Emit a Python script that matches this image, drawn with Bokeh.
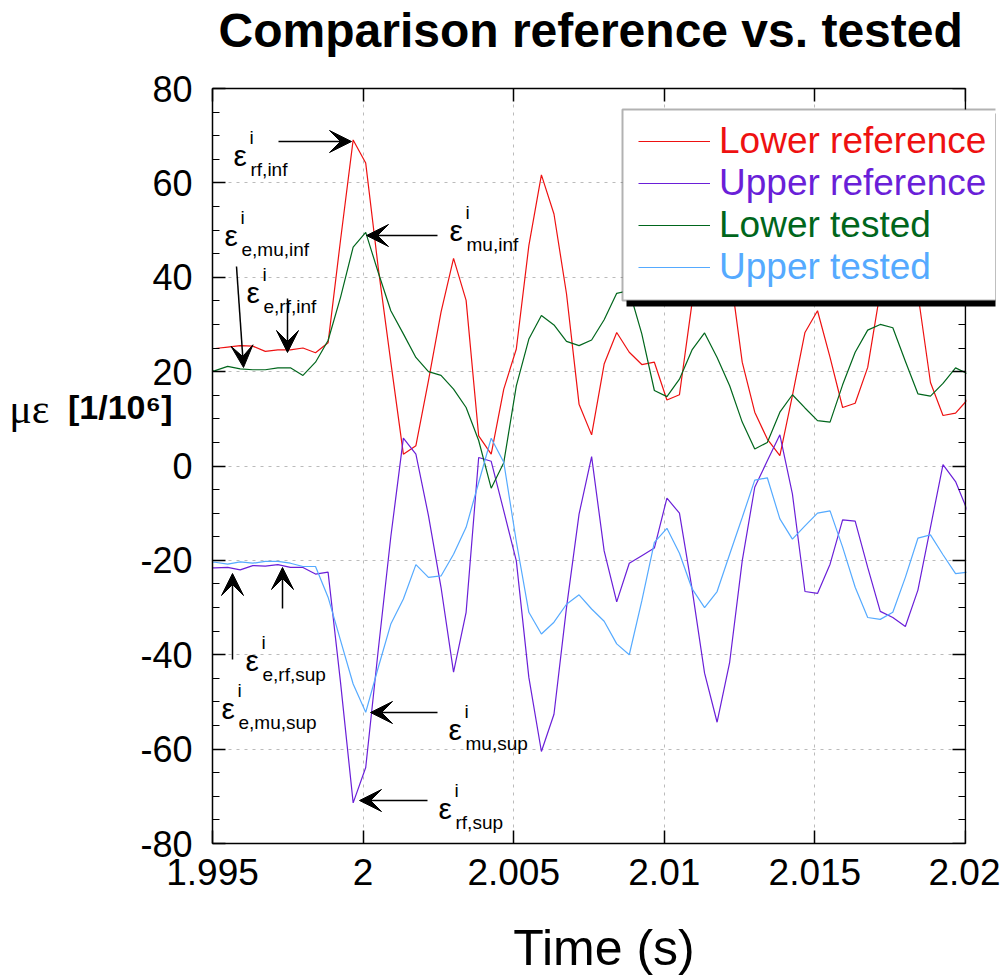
from bokeh.plotting import figure
from bokeh.models import (Range1d, FixedTicker, SingleIntervalTicker, NumeralTickFormatter,
                          LinearAxis, Label, Arrow, VeeHead, BoxAnnotation, Legend, LegendItem)
from bokeh.embed import file_html
from bokeh.resources import INLINE

# ---------------- data ----------------
time_s = [1.994670, 1.995087, 1.995503, 1.995920, 1.996337, 1.996753, 1.997170, 1.997587,
          1.998003, 1.998420, 1.998837, 1.999253, 1.999670, 2.000087, 2.000503, 2.000920,
          2.001337, 2.001753, 2.002170, 2.002587, 2.003003, 2.003420, 2.003837, 2.004253,
          2.004670, 2.005087, 2.005503, 2.005920, 2.006337, 2.006753, 2.007170, 2.007587,
          2.008003, 2.008420, 2.008837, 2.009253, 2.009670, 2.010087, 2.010503, 2.010920,
          2.011337, 2.011753, 2.012170, 2.012587, 2.013003, 2.013420, 2.013837, 2.014253,
          2.014670, 2.015087, 2.015503, 2.015920, 2.016337, 2.016753, 2.017170, 2.017587,
          2.018003, 2.018420, 2.018837, 2.019253, 2.019670, 2.020087]

lower_reference = [24.9, 24.9, 25.2, 25.5, 25.4, 24.3, 24.6, 24.6, 25.0, 24.0, 26.1, 48.0,
                   69.1, 64.2, 42.0, 22.0, 2.5, 4.3, 18.1, 32.6, 44.0, 35.1, 6.4, 2.5,
                   16.3, 24.8, 46.7, 61.7, 53.4, 36.5, 13.1, 6.6, 21.6, 28.3, 24.1, 21.5,
                   22.0, 14.0, 15.1, 34.5, 52.0, 55.0, 42.0, 22.0, 11.4, 5.7, 2.2, 14.9,
                   28.3, 32.9, 23.0, 12.4, 13.3, 20.9, 37.0, 50.0, 48.0, 36.5, 17.7, 10.7,
                   11.2, 14.2]

upper_reference = [-21.6, -21.6, -21.5, -22.0, -21.1, -21.2, -20.9, -21.5, -21.5, -22.9, -22.5, -46.0,
                   -71.4, -63.9, -39.0, -15.0, 5.9, 2.5, -10.5, -25.7, -43.7, -31.0, 1.8, 1.0,
                   -9.5, -20.1, -44.8, -60.5, -52.6, -30.0, -10.2, 2.0, -18.0, -28.8, -20.6, -19.0,
                   -17.4, -6.8, -10.0, -26.0, -43.9, -54.3, -41.6, -20.1, -4.5, 1.1, 6.6, -5.9,
                   -26.6, -27.0, -20.8, -11.4, -11.7, -21.5, -30.8, -32.1, -34.0, -26.3, -13.0, 0.3,
                   -3.3, -9.8]

lower_tested = [20.0, 20.2, 21.1, 20.6, 20.4, 20.4, 20.8, 20.8, 19.2, 22.0, 26.6, 35.8,
                46.4, 49.5, 41.0, 32.9, 28.0, 23.0, 20.0, 19.2, 16.3, 12.4, 5.4, -4.7,
                0.7, 17.0, 26.9, 31.9, 29.9, 26.4, 25.5, 26.7, 31.0, 36.6, 37.2, 28.0,
                16.0, 14.7, 18.4, 24.6, 28.2, 23.0, 17.0, 9.3, 3.6, 5.0, 11.4, 15.1,
                12.3, 9.6, 9.3, 17.2, 24.1, 28.8, 30.0, 29.3, 22.2, 15.3, 14.8, 17.5,
                20.8, 19.5]

upper_tested = [-20.4, -20.4, -20.8, -20.3, -20.6, -20.2, -20.2, -20.6, -21.3, -21.3, -27.8, -37.0,
                -46.2, -52.2, -42.7, -33.5, -28.2, -20.9, -23.6, -23.3, -18.7, -13.0, -3.5, 5.9,
                0.8, -16.0, -31.0, -35.6, -33.1, -29.3, -27.3, -30.3, -32.9, -37.7, -40.0, -28.6,
                -16.2, -13.2, -18.5, -26.0, -30.0, -26.6, -18.7, -10.9, -3.0, -2.5, -11.2, -15.5,
                -12.7, -10.0, -9.5, -17.2, -25.7, -32.1, -32.5, -31.0, -23.6, -15.3, -14.6, -18.8,
                -22.8, -22.5]

series_names = ["Lower reference", "Upper reference", "Lower tested", "Upper tested"]
series_colors = ["#ee1111", "#6a1fd8", "#00661c", "#55aaff"]
x_ticks = [1.995, 2.0, 2.005, 2.01, 2.015, 2.02]
chart_title = "Comparison reference vs. tested"

X_START, X_END = 1.995, 2.02
Y_START, Y_END = -80, 80

# ---------------- layout (pixel frame) ----------------
W, H = 1000, 978
FL, FR, FT, FB = 212, 965, 88, 843   # axis box edges in px
RB = 5                               # right border: frame runs past 2.02 so the legend is not clipped
FRAME_R = W - RB


def dx(px):
    return X_START + (px - FL) * (X_END - X_START) / (FR - FL)


def dy(py):
    return Y_START + (FB - py) * (Y_END - Y_START) / (FB - FT)


FONT = "Liberation Sans"

p = figure(width=W, height=H, output_backend="svg", toolbar_location=None,
           x_range=Range1d(X_START, dx(FRAME_R)), y_range=Range1d(Y_START, Y_END),
           min_border_left=FL, min_border_right=RB, min_border_top=FT,
           min_border_bottom=H - FB, x_axis_location=None, y_axis_location=None)

p.outline_line_color = None
p.background_fill_color = "white"
p.border_fill_color = "white"

yticker = SingleIntervalTicker(interval=20, num_minor_ticks=4)
xticker = FixedTicker(ticks=x_ticks, minor_ticks=[])


def style_axis(ax, show_labels):
    ax.axis_line_color = "black"
    ax.axis_line_width = 1.5
    ax.major_tick_in = 13
    ax.major_tick_out = 0
    ax.minor_tick_in = 7
    ax.minor_tick_out = 0
    ax.major_tick_line_color = "black"
    ax.major_tick_line_width = 1.5
    ax.minor_tick_line_color = "black"
    ax.minor_tick_line_width = 1.2
    ax.major_label_text_font = FONT
    ax.major_label_text_color = "black"
    if not show_labels:
        ax.major_label_text_font_size = "1px"
        ax.major_label_text_color = None
        ax.major_label_standoff = 0


xb = LinearAxis(ticker=xticker, formatter=NumeralTickFormatter(format="0.[000]"),
                bounds=(X_START, X_END))
style_axis(xb, True)
xb.major_label_text_font_size = "37px"
xb.major_label_standoff = 15
xb.axis_label = "Time (s)"
xb.axis_label_text_font = FONT
xb.axis_label_text_font_size = "50px"
xb.axis_label_text_font_style = "normal"
xb.axis_label_text_color = "black"
xb.axis_label_standoff = 32
p.add_layout(xb, "below")

# top edge of the box; its label carries the chart title (trailing no-break spaces
# move the centred title over the 1.995-2.02 box rather than the widened frame)
xt = LinearAxis(ticker=xticker, bounds=(X_START, X_END))
style_axis(xt, False)
xt.axis_label = chart_title + "\u00a0\u00a0"
xt.axis_label_text_font = FONT
xt.axis_label_text_font_size = "48px"
xt.axis_label_text_font_style = "bold"
xt.axis_label_text_color = "black"
xt.axis_label_standoff = 32
p.add_layout(xt, "above")

yl = LinearAxis(ticker=yticker, formatter=NumeralTickFormatter(format="0"))
style_axis(yl, True)
yl.major_label_text_font_size = "36px"
yl.major_label_standoff = 20
p.add_layout(yl, "left")


# horizontal y-axis title, written as two label-only axes stacked to the left;
# a second (blank) line lifts each label above the frame's vertical centre
def label_axis(text, font, size, style, standoff, line_height):
    ax = LinearAxis(ticker=FixedTicker(ticks=[]))
    ax.axis_line_color = None
    ax.major_tick_line_color = None
    ax.minor_tick_line_color = None
    ax.major_tick_out = 0
    ax.minor_tick_out = 0
    ax.major_label_text_color = None
    ax.major_label_text_font_size = "1px"
    ax.major_label_standoff = 0
    ax.axis_label = text + "\n\u00a0"
    ax.axis_label_orientation = "horizontal"
    ax.axis_label_text_font = font
    ax.axis_label_text_font_size = size
    ax.axis_label_text_font_style = style
    ax.axis_label_text_color = "black"
    ax.axis_label_text_line_height = line_height
    ax.axis_label_standoff = standoff
    return ax


p.add_layout(label_axis("[1/10⁶]", FONT, "34px", "bold", -35, 3.1), "left")
p.add_layout(label_axis("με", "Liberation Serif", "42px", "normal", 16, 2.5), "left")

yr = LinearAxis(ticker=yticker, fixed_location=X_END)
style_axis(yr, False)
p.add_layout(yr, "right")

p.xgrid.ticker = xticker
p.ygrid.ticker = yticker
for g in (p.xgrid, p.ygrid):
    g.grid_line_color = "#bbbbbb"
    g.grid_line_dash = "3 5"
    g.grid_line_width = 1

# ---------------- data lines ----------------
renderers = []
for vals, col in zip([lower_reference, upper_reference, lower_tested, upper_tested], series_colors):
    r = p.line(time_s, vals, line_color=col, line_width=1.2)
    renderers.append(r)

# white margin to the right of the 2.02 edge (frame extends there only for the legend)
p.add_layout(BoxAnnotation(left=dx(FR + 1), fill_color="white", fill_alpha=1, line_color=None))

# ---------------- annotations (arrows + epsilon labels) ----------------
arrows_px = [
    (278, 141, 351, 141),
    (437, 235, 366, 235),
    (236, 266, 243, 367),
    (287, 298, 287, 352),
    (282, 608, 282, 567),
    (232, 659, 232, 573),
    (437, 712, 370, 712),
    (427, 800, 359, 800),
]
for (x1, y1, x2, y2) in arrows_px:
    p.add_layout(Arrow(end=VeeHead(size=22, fill_color="black", line_color="black", line_width=1),
                       x_start=dx(x1), y_start=dy(y1), x_end=dx(x2), y_end=dy(y2),
                       line_color="black", line_width=1.5))

eps_labels = [
    ("rf,inf", 233, 155),
    ("mu,inf", 449, 230),
    ("e,mu,inf", 224, 235),
    ("e,rf,inf", 246, 292),
    ("e,rf,sup", 245, 660),
    ("e,mu,sup", 221, 708),
    ("mu,sup", 448, 729),
    ("rf,sup", 438, 808),
]
for sub, ex, ey in eps_labels:
    p.add_layout(Label(x=dx(ex), y=dy(ey), text="ε", text_font=FONT, text_font_size="30px",
                       text_baseline="alphabetic", text_align="left", text_color="black"))
    p.add_layout(Label(x=dx(ex + 16), y=dy(ey - 18), text="i", text_font=FONT, text_font_size="19px",
                       text_baseline="alphabetic", text_align="left", text_color="black"))
    p.add_layout(Label(x=dx(ex + 17), y=dy(ey + 14), text=sub, text_font=FONT, text_font_size="19px",
                       text_baseline="alphabetic", text_align="left", text_color="black"))

# ---------------- legend box ----------------
p.add_layout(BoxAnnotation(left=dx(626), right=dx(1012), top=dy(113), bottom=dy(306),
                           fill_color="black", fill_alpha=1, line_color=None))
p.add_layout(BoxAnnotation(left=dx(622), right=dx(1008), top=dy(109), bottom=dy(300),
                           fill_color="white", fill_alpha=1, line_color="black", line_width=2))

for i, (name, col, r) in enumerate(zip(series_names, series_colors, renderers)):
    lg = Legend(items=[LegendItem(label=name, renderers=[r])],
                location=(638 - FL, FB - (162 + 42 * i)),
                border_line_color=None, background_fill_alpha=0, padding=0, margin=0, spacing=0,
                label_height=42, glyph_height=42, glyph_width=72, label_standoff=9,
                label_text_font=FONT, label_text_font_size="37px", label_text_color=col,
                label_text_baseline="middle")
    p.add_layout(lg)

open("out.html", "w").write(file_html(p, INLINE))
